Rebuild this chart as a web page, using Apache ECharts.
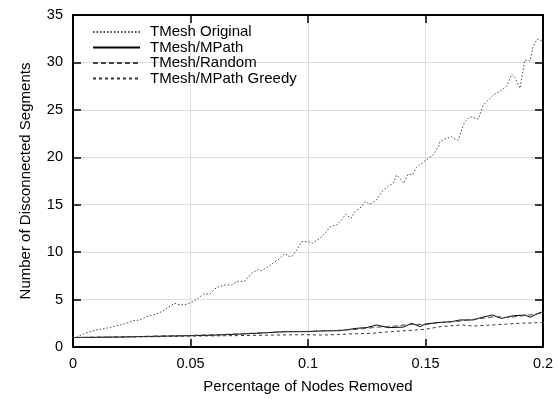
<!DOCTYPE html>
<html>
<head>
<meta charset="utf-8">
<script src="https://cdn.jsdelivr.net/npm/echarts@6/dist/echarts.min.js"></script>
<style>
  html, body { margin: 0; padding: 0; background: #fff; }
  .layer { position: absolute; left: 0; top: 0; width: 558px; height: 399px; }
</style>
</head>
<body>
<div id="plot" class="layer"></div>
<div id="labels" class="layer"></div>
<script>
// Fraction of nodes removed vs. number of disconnected segments
const seriesNames = ['TMesh Original', 'TMesh/MPath', 'TMesh/Random', 'TMesh/MPath Greedy'];

const tmeshOriginal = [
  [0, 1.0], [0.0014, 1.02], [0.0043, 1.37], [0.0071, 1.61], [0.0099, 1.79], [0.0142, 1.97],
  [0.017, 2.14], [0.0199, 2.32], [0.0227, 2.50], [0.0255, 2.77], [0.0284, 2.84], [0.0312, 3.19],
  [0.0355, 3.48], [0.0383, 3.80], [0.0404, 4.18], [0.0433, 4.61], [0.0454, 4.43], [0.0482, 4.5],
  [0.0511, 4.78], [0.0533, 5.13], [0.0555, 5.59], [0.0583, 5.59], [0.0611, 6.29], [0.0647, 6.54],
  [0.0675, 6.54], [0.0697, 6.88], [0.0732, 6.96], [0.076, 7.77], [0.0789, 8.19], [0.0803, 8.05],
  [0.0831, 8.47], [0.086, 9.0], [0.0881, 9.35], [0.0902, 9.87], [0.0916, 9.59], [0.0931, 9.52],
  [0.0952, 10.23], [0.0973, 11.1], [0.1001, 11.1], [0.1018, 10.93], [0.1051, 11.46], [0.1072, 11.99],
  [0.1094, 12.68], [0.1122, 12.86], [0.1143, 13.39], [0.116, 13.99], [0.1183, 13.57], [0.12, 14.26],
  [0.1228, 14.79], [0.1243, 15.32], [0.1264, 15.08], [0.1292, 15.5], [0.1314, 16.37], [0.1342, 16.97],
  [0.1363, 17.26], [0.1377, 18.13], [0.1391, 17.78], [0.1406, 17.26], [0.1427, 18.24], [0.1444, 18.13],
  [0.1462, 18.94], [0.1484, 19.37], [0.1512, 19.89], [0.1533, 20.24], [0.1555, 21.12], [0.1562, 21.64],
  [0.158, 21.9], [0.1611, 22.17], [0.1625, 21.9], [0.164, 21.82], [0.1655, 23.0], [0.1668, 23.75],
  [0.1689, 24.28], [0.1725, 24.04], [0.1746, 25.51], [0.176, 25.86], [0.1789, 26.57], [0.1825, 27.09],
  [0.1845, 27.5], [0.1867, 28.75], [0.188, 28.4], [0.1902, 27.27], [0.1923, 30.26], [0.1945, 30.15],
  [0.1958, 31.66], [0.1975, 32.47], [0.1994, 32.3], [0.2, 32.0]
];

const tmeshMPath = [
  [0, 1.0], [0.01, 1.02], [0.02, 1.05], [0.03, 1.1], [0.04, 1.15], [0.0498, 1.19], [0.06, 1.25],
  [0.07, 1.35], [0.0782, 1.44], [0.0895, 1.61], [0.0994, 1.62], [0.1065, 1.7], [0.1136, 1.72],
  [0.1207, 1.97], [0.125, 2.05], [0.1292, 2.32], [0.1342, 2.04], [0.1406, 2.1], [0.1441, 2.5],
  [0.1477, 2.14], [0.1498, 2.42], [0.1562, 2.6], [0.1611, 2.67], [0.1647, 2.85], [0.1703, 2.85],
  [0.1725, 3.02], [0.1782, 3.37], [0.1824, 3.02], [0.1875, 3.3], [0.1923, 3.37], [0.1945, 3.13],
  [0.198, 3.55], [0.2, 3.72]
];

const tmeshRandom = [
  [0, 1.0], [0.01, 1.03], [0.02, 1.06], [0.03, 1.12], [0.04, 1.18], [0.05, 1.22], [0.06, 1.3],
  [0.07, 1.38], [0.08, 1.5], [0.09, 1.6], [0.1, 1.65], [0.11, 1.72], [0.12, 1.85], [0.13, 2.1],
  [0.135, 2.15], [0.14, 2.3], [0.145, 2.4], [0.15, 2.35], [0.155, 2.55], [0.16, 2.62], [0.165, 2.75],
  [0.17, 2.9], [0.175, 3.05], [0.18, 3.2], [0.185, 3.1], [0.19, 3.25], [0.195, 3.4], [0.2, 3.6]
];

const tmeshMPathGreedy = [
  [0, 1.0], [0.02, 1.05], [0.04, 1.1], [0.05, 1.15], [0.07, 1.2], [0.0852, 1.26], [0.0987, 1.3],
  [0.1065, 1.26], [0.1207, 1.4], [0.127, 1.44], [0.1349, 1.61], [0.1498, 1.86], [0.1562, 2.14],
  [0.1654, 2.32], [0.1703, 2.21], [0.1782, 2.32], [0.1845, 2.42], [0.1895, 2.5], [0.198, 2.56],
  [0.2, 2.58]
];

const xTicks = { min: 0, max: 0.2, interval: 0.05 };
const yTicks = { min: 0, max: 35, interval: 5 };

const FONT = "'Liberation Sans', Arial, sans-serif";
const GRID = { left: 73, right: 15, top: 15, bottom: 52 };

// Each axis forms one side of a closed frame with inward ticks (labels drawn on the layer above)
function frameAxis(range, position) {
  return {
    type: 'value',
    position: position,
    min: range.min, max: range.max, interval: range.interval,
    axisLine: { show: true, onZero: false, lineStyle: { color: '#000', width: 2 } },
    axisTick: { show: true, inside: true, length: 8, lineStyle: { color: '#000', width: 1.5 } },
    axisLabel: { show: false }
  };
}

function lineSeries(name, data, color, dash) {
  return {
    name: name,
    type: 'line',
    data: data,
    symbol: 'none',
    lineStyle: { color: color, width: 1, type: dash },
    // keeps the legend's marker dot invisible, leaving only the line sample
    itemStyle: { color: 'rgba(0,0,0,0)', borderColor: 'rgba(0,0,0,0)', borderWidth: 0 }
  };
}

// Lower layer: frame, ticks, curves and legend
const plotChart = echarts.init(document.getElementById('plot'));
plotChart.setOption({
  animation: false,
  grid: GRID,
  legend: {
    orient: 'vertical',
    left: 87,
    top: 19.5,
    itemWidth: 47,
    itemHeight: 10,
    itemGap: 0.5,
    data: seriesNames,
    selectedMode: false,
    textStyle: { fontFamily: FONT, fontSize: 15, color: '#000', padding: [0, 0, 0, 5] }
  },
  xAxis: [frameAxis(xTicks, 'bottom'), frameAxis(xTicks, 'top')],
  yAxis: [frameAxis(yTicks, 'left'), frameAxis(yTicks, 'right')],
  series: [
    lineSeries(seriesNames[0], tmeshOriginal, '#444', [1.5, 2]),
    lineSeries(seriesNames[1], tmeshMPath, '#000', 'solid'),
    lineSeries(seriesNames[2], tmeshRandom, '#444', [5, 3]),
    lineSeries(seriesNames[3], tmeshMPathGreedy, '#333', [3, 3])
  ]
});

// Upper layer: tick labels and axis titles on the same scales
const labelAxis = function (range, extra) {
  return Object.assign({
    type: 'value',
    min: range.min, max: range.max, interval: range.interval,
    axisLine: { show: false },
    axisTick: { show: false },
    splitLine: { show: false }
  }, extra);
};

const labelChart = echarts.init(document.getElementById('labels'));
labelChart.setOption({
  animation: false,
  backgroundColor: 'transparent',
  grid: GRID,
  xAxis: labelAxis(xTicks, {
    position: 'bottom',
    name: 'Percentage of Nodes Removed', nameLocation: 'middle', nameGap: 32,
    nameTextStyle: { fontFamily: FONT, fontSize: 15, color: '#000' },
    axisLabel: { fontFamily: FONT, fontSize: 14.5, color: '#000', margin: 9 }
  }),
  yAxis: labelAxis(yTicks, {
    position: 'left',
    name: 'Number of Disconnected Segments', nameLocation: 'middle', nameGap: 40,
    nameTextStyle: { fontFamily: FONT, fontSize: 15, color: '#000' },
    axisLabel: { fontFamily: FONT, fontSize: 14.5, color: '#000', margin: 10 }
  }),
  series: []
});
</script>
</body>
</html>
